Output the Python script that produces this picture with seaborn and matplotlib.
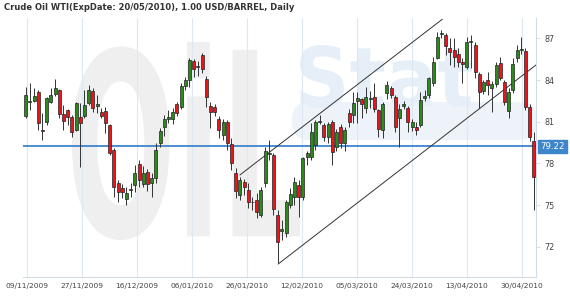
import numpy as np
import pandas as pd
import matplotlib
matplotlib.use("Agg")
import matplotlib.pyplot as plt
import seaborn as sns
from matplotlib.textpath import TextPath
from matplotlib.patches import PathPatch, FancyBboxPatch
from matplotlib.font_manager import FontProperties
from matplotlib.transforms import Affine2D, IdentityTransform

# ---------------- data ----------------
open_ = [81.41, 82.45, 82.49, 83.16, 80.40, 81.00, 82.44, 82.97, 83.28, 81.55,
         81.84, 81.31, 80.38, 81.36, 81.41, 82.37, 83.21, 82.10, 81.72, 81.79,
         80.76, 78.96, 76.60, 76.20, 75.42, 76.10, 76.45, 77.94, 76.52, 77.38,
         76.60, 76.93, 79.49, 80.60, 81.17, 81.17, 82.25, 82.08, 83.57, 84.00,
         85.37, 84.90, 85.80, 84.05, 82.13, 82.08, 81.23, 80.04, 81.00, 79.40,
         77.29, 75.73, 76.68, 76.09, 75.20, 75.37, 74.30, 76.57, 78.70, 78.60,
         74.29, 73.15, 72.97, 75.00, 75.56, 76.45, 75.56, 78.48, 78.48, 79.32,
         80.95, 80.76, 79.92, 80.96, 79.20, 80.64, 79.45, 81.65, 81.48, 82.49,
         82.61, 81.96, 82.60, 82.80, 81.84, 80.40, 83.04, 83.40, 82.80, 81.24,
         82.15, 81.96, 80.64, 80.60, 80.76, 82.70, 82.92, 83.76, 85.60, 87.30,
         87.24, 86.28, 86.16, 85.85, 85.32, 84.96, 86.70, 86.52, 84.41, 83.20,
         84.00, 83.45, 83.69, 85.20, 83.88, 81.77, 83.28, 85.56, 86.15, 86.08,
         82.08, 79.60]
high = [83.50, 83.76, 83.40, 83.30, 81.62, 82.80, 83.42, 84.05, 83.35, 82.20,
        81.90, 81.45, 82.44, 82.35, 83.28, 83.64, 83.40, 82.90, 81.98, 82.06,
        80.83, 79.10, 76.80, 76.50, 76.30, 76.60, 77.90, 78.24, 77.80, 77.60,
        77.30, 79.47, 80.53, 81.48, 81.84, 81.98, 82.40, 83.80, 84.24, 85.56,
        85.50, 85.40, 85.96, 84.30, 82.40, 82.30, 81.40, 81.20, 81.10, 79.80,
        77.67, 77.04, 76.90, 76.57, 75.60, 75.87, 76.30, 79.20, 79.68, 78.73,
        74.65, 73.90, 75.37, 76.20, 77.04, 76.80, 78.48, 78.90, 80.90, 81.10,
        81.50, 80.90, 81.00, 81.10, 80.50, 80.80, 80.60, 81.90, 83.16, 83.16,
        82.70, 83.52, 83.20, 83.76, 81.95, 82.40, 83.90, 83.60, 82.90, 82.30,
        82.50, 82.10, 81.20, 81.00, 83.16, 83.30, 84.24, 85.68, 87.47, 87.60,
        87.40, 87.00, 87.00, 86.30, 85.60, 87.12, 87.24, 86.76, 84.60, 84.00,
        84.60, 83.90, 85.30, 85.63, 84.00, 83.40, 85.60, 86.50, 87.12, 86.28,
        82.30, 80.28]
low = [81.30, 81.84, 82.40, 80.40, 79.68, 80.76, 82.35, 82.85, 81.24, 80.40,
       80.76, 79.88, 80.30, 77.76, 81.30, 82.20, 81.70, 81.60, 81.27, 80.19,
       78.60, 75.60, 75.24, 75.50, 75.00, 75.60, 75.97, 76.30, 76.30, 76.00,
       75.60, 76.60, 79.20, 80.00, 80.90, 80.80, 81.40, 81.90, 83.28, 83.52,
       84.24, 84.30, 84.48, 82.08, 80.55, 81.40, 79.83, 79.68, 78.96, 77.50,
       75.50, 75.37, 75.73, 74.77, 74.65, 74.05, 74.17, 76.32, 78.24, 74.30,
       70.81, 72.50, 72.73, 74.77, 75.00, 74.17, 75.40, 77.90, 78.24, 79.00,
       80.80, 79.60, 79.50, 77.90, 78.90, 79.10, 78.90, 80.64, 80.90, 80.88,
       81.30, 81.60, 82.00, 81.70, 79.90, 79.83, 82.60, 82.70, 80.28, 79.20,
       81.90, 80.28, 80.30, 80.04, 80.60, 82.50, 82.70, 83.60, 85.50, 87.00,
       85.80, 85.08, 84.96, 84.90, 83.76, 84.80, 84.84, 84.12, 81.96, 83.00,
       82.92, 81.72, 83.50, 84.00, 82.20, 81.24, 83.10, 85.30, 85.90, 81.84,
       79.60, 74.65]
close = [82.92, 82.52, 82.85, 80.93, 80.30, 82.68, 82.92, 83.40, 81.55, 81.07,
         81.31, 80.28, 82.32, 80.88, 82.20, 83.28, 81.96, 82.25, 81.43, 80.90,
         78.75, 76.28, 75.96, 75.96, 75.89, 76.16, 77.31, 76.81, 77.31, 76.55,
         76.95, 78.96, 80.35, 81.22, 81.36, 81.72, 81.60, 83.57, 84.00, 85.44,
         84.77, 85.00, 84.77, 82.80, 81.72, 81.72, 80.37, 81.00, 79.45, 78.00,
         76.00, 76.81, 76.32, 75.24, 75.26, 74.52, 76.09, 78.91, 78.76, 74.70,
         72.37, 73.25, 75.24, 75.80, 76.68, 75.56, 78.37, 78.73, 80.28, 81.00,
         81.02, 79.92, 80.81, 78.84, 80.28, 79.50, 80.40, 81.00, 82.32, 82.68,
         82.25, 82.80, 82.70, 81.90, 80.45, 82.27, 83.64, 82.92, 80.64, 81.89,
         82.25, 81.00, 81.00, 80.40, 82.56, 82.85, 84.12, 85.32, 87.12, 87.40,
         86.47, 86.04, 85.63, 85.27, 85.13, 86.76, 86.78, 84.60, 83.16, 83.83,
         83.64, 83.69, 85.08, 84.12, 82.44, 83.16, 85.13, 86.16, 86.22, 82.08,
         79.92, 77.04]

date_labels = ["09/11/2009", "27/11/2009", "16/12/2009", "06/01/2010", "26/01/2010",
               "12/02/2010", "05/03/2010", "24/03/2010", "13/04/2010", "30/04/2010"]
price_ticks = [72, 75, 78, 81, 84, 87]
support_level = 79.22
upper_channel_x = [51.0, 99.2]
upper_channel_y = [77.17, 88.37]
lower_channel_x = [60.1, 121.5]
lower_channel_y = [70.76, 85.08]
title = "Crude Oil WTI(ExpDate: 20/05/2010), 1.00 USD/BARREL, Daily"

# ---------------- figure ----------------
sns.set_theme(style="white")
plt.rcParams["font.family"] = ["DejaVu Sans"]

df = pd.DataFrame({"open": open_, "high": high, "low": low, "close": close})
df["idx"] = np.arange(len(df))
df["up"] = df["close"] >= df["open"]

W, H = 570, 297
fig = plt.figure(figsize=(W / 100, H / 100), dpi=100)
fig.patch.set_facecolor("white")
ax = fig.add_axes([23 / W, 1 - 277 / H, (536 - 23) / W, (277 - 18) / H])
ax.set_facecolor("white")
ax.patch.set_alpha(0)

ax.set_xlim(-0.64, 121.5)
ax.set_ylim(69.83, 88.46)


def watermark(text, box, color, weight="bold"):
    """Draw a stretched text logo filling the pixel box (x0, y0_top, x1, y1_top)."""
    tp = TextPath((0, 0), text, size=100, prop=FontProperties(family="DejaVu Sans", weight=weight))
    ext = tp.get_extents()
    x0, yt0, x1, yt1 = box
    sx = (x1 - x0) / ext.width
    sy = (yt1 - yt0) / ext.height
    tr = (Affine2D().translate(-ext.x0, -ext.y0).scale(sx, sy)
          .translate(x0, H - yt1))
    patch = PathPatch(tr.transform_path(tp), transform=IdentityTransform(),
                      fc=color, ec="none", zorder=-5)
    fig.patches.append(patch)


# watermark logo (background decoration)
band = FancyBboxPatch((292, H - 140), 245, 38, boxstyle="round,pad=0,rounding_size=18",
                      transform=IdentityTransform(), fc="#edf3f9", ec="none", zorder=-6)
fig.patches.append(band)
watermark("OiL", (72, 42, 300, 240), "#efefef")
watermark("Stat", (300, 45, 472, 108), "#e6eff8")

# vertical grid lines
tick_pos = np.arange(len(date_labels)) * 13.1 + 0.25
for t in tick_pos:
    ax.axvline(t, color="#dde8f2", lw=0.8, zorder=1)

# support line
ax.axhline(support_level, color="#3d86cc", lw=1.3, zorder=2)

# channel lines
ax.plot(upper_channel_x, upper_channel_y, color="#333333", lw=0.7, zorder=3)
ax.plot(lower_channel_x, lower_channel_y, color="#333333", lw=0.7, zorder=3)

# wicks
ax.vlines(df["idx"], df["low"], df["high"], color="#333333", lw=0.7, zorder=4)
# bodies
bottoms = np.minimum(df["open"], df["close"])
heights = np.maximum(np.abs(df["close"] - df["open"]), 0.03)
colors = np.where(df["up"], "#2b8a1b", "#e8161c")
ax.bar(df["idx"], heights, bottom=bottoms, width=0.75, color=colors,
       edgecolor="#222222", linewidth=0.5, zorder=5)

# axes styling
for s in ["left", "top"]:
    ax.spines[s].set_visible(False)
ax.spines["right"].set_color("#cfdce8")
ax.spines["bottom"].set_color("#cfdce8")
ax.spines["right"].set_linewidth(0.8)
ax.spines["bottom"].set_linewidth(0.8)

ax.yaxis.tick_right()
ax.set_yticks(price_ticks)
ax.set_yticklabels([str(v) for v in price_ticks])
ax.tick_params(axis="y", right=True, length=3, width=0.6, color="#cfdce8",
               labelsize=5.8, labelcolor="#444444", pad=3)
ax.set_xticks(tick_pos)
ax.set_xticklabels(date_labels)
ax.tick_params(axis="x", bottom=False, length=0, labelsize=5.4,
               labelcolor="#444444", pad=4)

# support label box
ax.annotate(f"{support_level:.2f}", xy=(1.0, support_level), xycoords=("axes fraction", "data"),
            xytext=(3, 0), textcoords="offset points", ha="left", va="center",
            fontsize=6.2, color="white",
            bbox=dict(boxstyle="square,pad=0.25", fc="#3d86cc", ec="#3d86cc"),
            annotation_clip=False, zorder=6)

fig.text(4 / W, 1 - 8 / H, title, fontsize=6.0, fontweight="bold",
         color="#333333", ha="left", va="center")

fig.savefig("out.png", dpi=100, facecolor="white")
